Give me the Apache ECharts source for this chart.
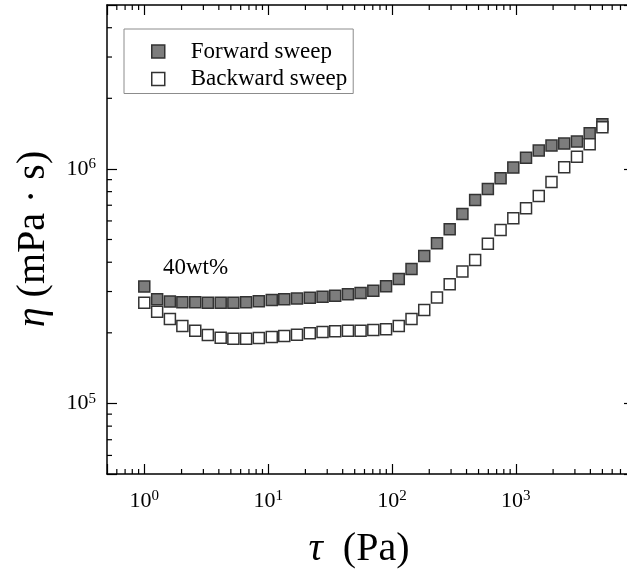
<!DOCTYPE html>
<html><head><meta charset="utf-8">
<script src="https://cdn.jsdelivr.net/npm/echarts@6/dist/echarts.min.js"></script>
<style>html,body{margin:0;padding:0;background:#fff}#c{width:627px;height:569px}</style>
</head><body><div id="c"></div>
<script>
// Shear stress tau (Pa)
const shearStress = [1.00,1.27,1.61,2.03,2.58,3.26,4.14,5.24,6.64,8.41,10.7,13.5,17.1,21.7,27.5,34.8,44.1,55.8,70.7,89.6,113.5,143.8,182.2,230.9,292.4,370.5,469.4,594.7,753.4,954.5,1209,1532,1941,2459,3116,3948,5000];
// Viscosity eta (mPa.s)
const forwardViscosity = [3.15e5,2.78e5,2.72e5,2.70e5,2.70e5,2.69e5,2.69e5,2.69e5,2.70e5,2.73e5,2.76e5,2.78e5,2.80e5,2.82e5,2.85e5,2.88e5,2.92e5,2.96e5,3.02e5,3.16e5,3.39e5,3.74e5,4.25e5,4.82e5,5.53e5,6.43e5,7.37e5,8.21e5,9.13e5,1.013e6,1.117e6,1.197e6,1.257e6,1.282e6,1.308e6,1.42e6,1.55e6];
const backwardViscosity = [2.69e5,2.46e5,2.29e5,2.14e5,2.04e5,1.957e5,1.905e5,1.887e5,1.887e5,1.90e5,1.92e5,1.94e5,1.963e5,1.99e5,2.015e5,2.03e5,2.04e5,2.04e5,2.055e5,2.07e5,2.14e5,2.29e5,2.50e5,2.83e5,3.22e5,3.65e5,4.09e5,4.79e5,5.49e5,6.16e5,6.80e5,7.67e5,8.80e5,1.017e6,1.128e6,1.275e6,1.507e6];
const seriesNames = ['Forward sweep','Backward sweep'];
const minorTicksX = [0.6,0.7,0.8,0.9,2,3,4,5,6,7,8,9,20,30,40,50,60,70,80,90,200,300,400,500,600,700,800,900,2000,3000,4000,5000,6000,7000,8000];
const minorTicksY = [6e4,7e4,8e4,9e4,2e5,3e5,4e5,5e5,6e5,7e5,8e5,9e5,2e6,3e6,4e6];
const xRange = [0.5, 9000];
const yRange = [5e4, 5e6];

const FONT = 'Liberation Serif';
function powLabel(v){
  const l = Math.log10(v), e = Math.round(l);
  if (Math.abs(l - e) > 1e-6) return '';
  return '{b|10}{s|' + e + '}';
}
const labelRich = {
  b:{fontFamily:FONT, fontSize:22, lineHeight:24, color:'#000'},
  s:{fontFamily:FONT, fontSize:15, lineHeight:15, verticalAlign:'top', color:'#000'}
};
const lineSt = {color:'#000', width:1.5};
const tickSt = {color:'#000', width:1.2};
function mkAxis(pos, range, showLabel, margin){
  return {
    type:'log', position:pos, min:range[0], max:range[1], logBase:10,
    axisLine:{show:true, onZero:false, lineStyle:lineSt},
    axisTick:{show:true, inside:true, length:10, lineStyle:tickSt},
    minorTick:{show:false}, splitLine:{show:false},
    axisLabel:{show:showLabel, formatter:powLabel, rich:labelRich, margin:margin, hideOverlap:false}
  };
}
const tickData = minorTicksX.map(v => [v, 1e5, 0]).concat(minorTicksY.map(v => [1, v, 1]));

const chart = echarts.init(document.getElementById('c'), null, {renderer:'canvas'});
chart.setOption({
  animation:false,
  backgroundColor:'#fff',
  grid:{left:107, top:5, width:527, height:469, containLabel:false, outerBoundsMode:'none'},
  xAxis:[mkAxis('bottom', xRange, true, 15), mkAxis('top', xRange, false, 8)],
  yAxis:[mkAxis('left', yRange, true, 11), mkAxis('right', yRange, false, 8)],
  legend:{
    left:124, top:29, orient:'vertical',
    itemWidth:13, itemHeight:13, itemGap:4.5,
    icon:'path://M0,0L10,0L10,10L0,10Z',
    padding:[11,6,3,27],
    borderColor:'#8c8c8c', borderWidth:1,
    textStyle:{fontFamily:FONT, fontSize:23, color:'#000', lineHeight:23, padding:[0,0,0,21]},
    data:[
      {name:seriesNames[0], itemStyle:{color:'#7d7d7d', borderColor:'#333', borderWidth:1.5}},
      {name:seriesNames[1], itemStyle:{color:'#fff', borderColor:'#333', borderWidth:1.5}}
    ]
  },
  graphic:[
    {type:'text', x:163, y:267.5, style:{text:'40wt%', fontFamily:FONT, fontSize:23, fill:'#000', align:'left', verticalAlign:'middle'}},
    {type:'text', x:359, y:549, style:{text:'{i|τ}{n|  (Pa)}', align:'center', verticalAlign:'middle',
      rich:{i:{fontFamily:FONT, fontStyle:'italic', fontSize:40, fill:'#000', color:'#000'}, n:{fontFamily:FONT, fontSize:40, fill:'#000', color:'#000'}}}},
    {type:'text', x:33, y:239, rotation:Math.PI/2, style:{text:'{i|η}{n| (mPa · s)}', align:'center', verticalAlign:'middle',
      rich:{i:{fontFamily:FONT, fontStyle:'italic', fontSize:40, fill:'#000', color:'#000'}, n:{fontFamily:FONT, fontSize:40, fill:'#000', color:'#000'}}}}
  ],
  series:[
    {type:'custom', name:'ticks', xAxisIndex:0, yAxisIndex:0, silent:true, clip:false,
      dimensions:['x','y','k'], encode:{x:0, y:1},
      data:tickData,
      renderItem:function(params, api){
        const cs = params.coordSys;
        const p = api.coord([api.value(0), api.value(1)]);
        const L = 5, st = {stroke:'#000', lineWidth:1.2};
        if (api.value(2) === 0) {
          return {type:'group', children:[
            {type:'line', shape:{x1:p[0], y1:cs.y+cs.height, x2:p[0], y2:cs.y+cs.height-L}, style:st},
            {type:'line', shape:{x1:p[0], y1:cs.y, x2:p[0], y2:cs.y+L}, style:st}
          ]};
        }
        return {type:'group', children:[
          {type:'line', shape:{x1:cs.x, y1:p[1], x2:cs.x+L, y2:p[1]}, style:st},
          {type:'line', shape:{x1:cs.x+cs.width, y1:p[1], x2:cs.x+cs.width-L, y2:p[1]}, style:st}
        ]};
      }
    },
    {type:'scatter', name:seriesNames[0], symbol:'rect', symbolSize:11,
      data:shearStress.map((x,i)=>[x, forwardViscosity[i]]),
      itemStyle:{color:'#7d7d7d', borderColor:'#333', borderWidth:1.5, opacity:1}},
    {type:'scatter', name:seriesNames[1], symbol:'rect', symbolSize:11,
      data:shearStress.map((x,i)=>[x, backwardViscosity[i]]),
      itemStyle:{color:'#fff', borderColor:'#333', borderWidth:1.5, opacity:1}}
  ]
});
</script></body></html>
